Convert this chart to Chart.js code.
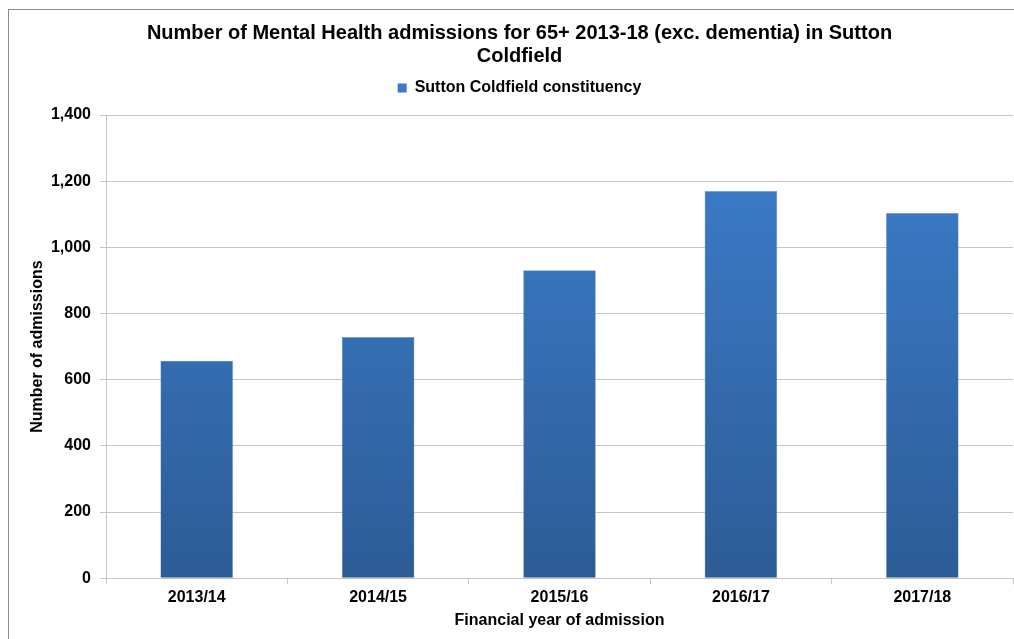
<!DOCTYPE html>
<html>
<head>
<meta charset="utf-8">
<script src="https://cdn.jsdelivr.net/npm/chart.js@4"></script>
<style>
  body { margin: 0; background: #fff; }
  #frame { position: absolute; left: 8px; top: 9px; width: 1100px; height: 700px;
           border-left: 1px solid #8c8c8c; border-top: 1px solid #8c8c8c; }
  #wrap { position: absolute; left: 0; top: 0; width: 1014px; height: 639px; }
</style>
</head>
<body>
<div id="frame"></div>
<div id="wrap"><canvas id="barChart" width="1014" height="639"></canvas></div>
<script>
const years = ['2013/14', '2014/15', '2015/16', '2016/17', '2017/18'];
const admissions = [657, 729, 931, 1170, 1104];
const seriesName = 'Sutton Coldfield constituency';

const font = 'Arial, "Liberation Sans", sans-serif';
const gridColour = '#c6c6c6';

function barFill(context) {
    const area = context.chart.chartArea;
    if (!area) return '#3a78c6';
    const g = context.chart.ctx.createLinearGradient(0, area.top, 0, area.bottom);
    g.addColorStop(0, '#3d7fce');
    g.addColorStop(1, '#2d5c96');
    return g;
}

const ctx = document.getElementById('barChart');
const barChart = new Chart(ctx, {
    type: 'bar',
    data: {
        labels: years,
        datasets: [{
            label: seriesName,
            data: admissions,
            backgroundColor: barFill,
            borderColor: '#6f9ad3',
            borderWidth: 0.5,
            categoryPercentage: 1,
            barPercentage: 0.4
        }]
    },
    options: {
        responsive: false,
        animation: false,
        layout: { padding: { left: 26, right: 1, top: 12, bottom: 10 } },
        plugins: {
            title: {
                display: true,
                text: ['Number of Mental Health admissions for 65+ 2013-18 (exc. dementia) in Sutton', 'Coldfield'],
                color: '#000',
                font: { family: font, size: 20, weight: 'bold', lineHeight: 1.15 },
                padding: { top: 10, bottom: 2 }
            },
            legend: {
                labels: {
                    color: '#000',
                    boxWidth: 9,
                    boxHeight: 9,
                    font: { family: font, size: 16, weight: 'bold' },
                    generateLabels: chart => [{
                        text: seriesName,
                        fillStyle: '#3a78c6',
                        strokeStyle: '#3a78c6',
                        lineWidth: 0,
                        datasetIndex: 0
                    }]
                }
            },
            // empty subtitle used as a spacer between legend and plot
            subtitle: {
                display: true,
                text: '',
                weight: 500,
                font: { size: 1, lineHeight: 1 },
                padding: { top: 0, bottom: 8 }
            },
            tooltip: { enabled: false }
        },
        scales: {
            x: {
                grid: { drawOnChartArea: false, color: gridColour, tickLength: 6 },
                border: { color: gridColour },
                ticks: { color: '#000', font: { family: font, size: 16, weight: 'bold' }, padding: 4 },
                title: {
                    display: true,
                    text: 'Financial year of admission',
                    color: '#000',
                    font: { family: font, size: 16, weight: 'bold', lineHeight: 1.1 },
                    padding: { top: 0, bottom: 0 }
                }
            },
            y: {
                min: 0,
                max: 1400,
                afterFit: scale => { scale.width = 80; },
                grid: { color: gridColour, tickLength: 6 },
                border: { color: gridColour },
                ticks: {
                    stepSize: 200,
                    color: '#000',
                    font: { family: font, size: 16, weight: 'bold' },
                    padding: 9,
                    callback: v => v.toLocaleString('en-GB')
                },
                title: {
                    display: true,
                    text: 'Number of admissions',
                    color: '#000',
                    font: { family: font, size: 16, weight: 'bold' },
                    padding: { top: 1.5, bottom: 0 }
                }
            }
        }
    }
});
</script>
</body>
</html>
